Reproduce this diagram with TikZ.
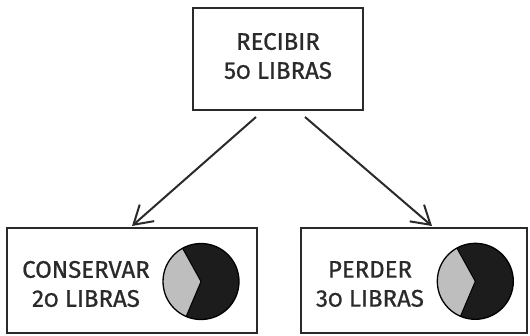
\documentclass[tikz,border=0pt]{standalone}
\usepackage{fontspec}
\setmainfont{Fira Sans}[FakeBold=0.8]
\usetikzlibrary{arrows.meta,calc}
\definecolor{ink}{HTML}{2A2A2A}
\definecolor{piegray}{HTML}{BEBEBE}
\definecolor{pieblack}{HTML}{1C1C1C}
\newcommand{\osz}{{\addfontfeature{Numbers=OldStyle}0}}
\tikzset{
  boxnode/.style={draw=ink, line width=1.8pt, inner sep=0pt},
  label text/.style={text=ink, font=\fontsize{24}{29}\selectfont, align=center, inner sep=0pt},
  arrowline/.style={draw=ink, line width=2pt, -{Straight Barb[length=18pt,width=22pt,line width=2pt]}},
  pieedge/.style={draw=black, line width=1.3pt}
}
\begin{document}
\begin{tikzpicture}[x=1pt,y=-1pt]
\useasboundingbox (0,0) rectangle (530,335);
% boxes
\node[boxnode, minimum width=170pt, minimum height=102pt] (top) at (278,59) {};
\node[boxnode, minimum width=250pt, minimum height=105pt] (left) at (132,280.5) {};
\node[boxnode, minimum width=226pt, minimum height=105pt] (right) at (414,280.5) {};
% texts
\node[label text] (toptext) at (278,56) {RECIBIR\\5\osz{} LIBRAS};
\node[label text] (lefttext) at (86,284) {CONSERVAR\\2\osz{} LIBRAS};
\node[label text] (righttext) at (370,284) {PERDER\\3\osz{} LIBRAS};
% arrows
\coordinate (s1) at (256,117);
\coordinate (s2) at (305,117);
\coordinate (e1) at (132,226);
\coordinate (e2) at (432,226);
\draw[arrowline] (s1) -- (e1);
\draw[arrowline] (s2) -- (e2);
% pies
\coordinate (p1) at (201,281.5);
\coordinate (p2) at (475.3,281.3);
\foreach \c in {p1,p2}{
  \fill[piegray] (\c) -- ++(113:38) arc (113:241:38) -- cycle;
  \fill[pieblack] (\c) -- ++(241:38) arc (241:473:38) -- cycle;
  \draw[pieedge] (\c) circle (38);
  \draw[black, line width=1pt] ($(\c)+(241:38)$) -- (\c) -- ($(\c)+(113:38)$);
}
\end{tikzpicture}
\end{document}
